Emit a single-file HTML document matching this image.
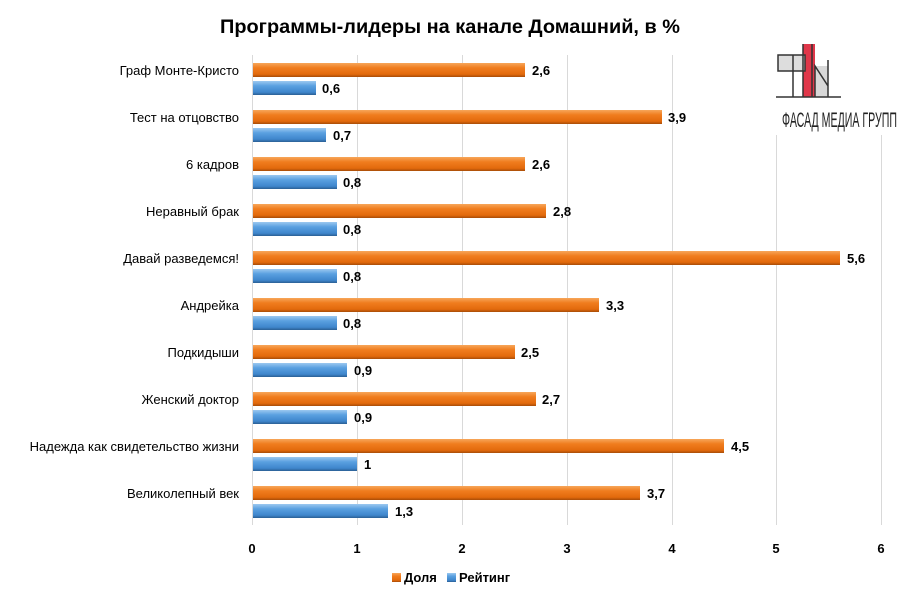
<!DOCTYPE html>
<html><head><meta charset="utf-8"><style>
body{margin:0;background:#fff}
svg{display:block;font-family:"Liberation Sans",sans-serif}
</style></head><body>
<svg width="900" height="600" viewBox="0 0 900 600" xmlns="http://www.w3.org/2000/svg">
<defs>
<linearGradient id="o" x1="0" y1="0" x2="0" y2="1">
<stop offset="0" stop-color="#f7a65a"/><stop offset="0.35" stop-color="#f07d1e"/><stop offset="0.8" stop-color="#e36a0c"/><stop offset="1" stop-color="#a84c08"/></linearGradient>
<linearGradient id="b" x1="0" y1="0" x2="0" y2="1">
<stop offset="0" stop-color="#9cc8f0"/><stop offset="0.35" stop-color="#5aa0e0"/><stop offset="0.8" stop-color="#3f86cc"/><stop offset="1" stop-color="#2a5f94"/></linearGradient>
</defs>
<rect width="900" height="600" fill="#fff"/>
<text x="450" y="33" text-anchor="middle" font-size="19" font-weight="bold" fill="#000" textLength="460" lengthAdjust="spacingAndGlyphs">Программы-лидеры на канале Домашний, в %</text>
<g stroke="#d9d9d9" stroke-width="1">
<line x1="252.5" y1="55" x2="252.5" y2="525"/><line x1="357.5" y1="55" x2="357.5" y2="525"/><line x1="462.5" y1="55" x2="462.5" y2="525"/><line x1="567.5" y1="55" x2="567.5" y2="525"/><line x1="672.5" y1="55" x2="672.5" y2="525"/><line x1="776.5" y1="55" x2="776.5" y2="525"/><line x1="881.5" y1="55" x2="881.5" y2="525"/>
</g>
<rect x="760" y="40" width="140" height="95" fill="#fff"/>
<g>
<rect x="803" y="44" width="12" height="53" fill="#e0374a"/>
<rect x="815" y="66" width="13" height="31" fill="#d8d8d8"/>
<path d="M778 55 H805 V71 H778 Z" fill="#ddd" stroke="#333" stroke-width="1.5"/>
<path d="M793 55 V97 M803 44 V97 M812 44 V97 M815 97 V66 L828 86 V97 M828 60 V97" fill="none" stroke="#333" stroke-width="1.5"/>
<line x1="776" y1="97" x2="841" y2="97" stroke="#333" stroke-width="1.5"/>
<text x="782" y="127" font-size="21" fill="#222" textLength="115" lengthAdjust="spacingAndGlyphs">ФАСАД МЕДИА ГРУПП</text>
</g>
<g font-size="13" fill="#000" text-anchor="end">
<text x="239" y="75">Граф Монте-Кристо</text>
<text x="239" y="122">Тест на отцовство</text>
<text x="239" y="169">6 кадров</text>
<text x="239" y="216">Неравный брак</text>
<text x="239" y="263">Давай разведемся!</text>
<text x="239" y="310">Андрейка</text>
<text x="239" y="357">Подкидыши</text>
<text x="239" y="404">Женский доктор</text>
<text x="239" y="451">Надежда как свидетельство жизни</text>
<text x="239" y="498">Великолепный век</text>
</g>
<g font-size="13" font-weight="bold" fill="#000">
<rect x="253" y="63" width="272" height="14" fill="url(#o)"/><text x="532" y="75">2,6</text>
<rect x="253" y="81" width="63" height="14" fill="url(#b)"/><text x="322" y="93">0,6</text>
<rect x="253" y="110" width="409" height="14" fill="url(#o)"/><text x="668" y="122">3,9</text>
<rect x="253" y="128" width="73" height="14" fill="url(#b)"/><text x="333" y="140">0,7</text>
<rect x="253" y="157" width="272" height="14" fill="url(#o)"/><text x="532" y="169">2,6</text>
<rect x="253" y="175" width="84" height="14" fill="url(#b)"/><text x="343" y="187">0,8</text>
<rect x="253" y="204" width="293" height="14" fill="url(#o)"/><text x="553" y="216">2,8</text>
<rect x="253" y="222" width="84" height="14" fill="url(#b)"/><text x="343" y="234">0,8</text>
<rect x="253" y="251" width="587" height="14" fill="url(#o)"/><text x="847" y="263">5,6</text>
<rect x="253" y="269" width="84" height="14" fill="url(#b)"/><text x="343" y="281">0,8</text>
<rect x="253" y="298" width="346" height="14" fill="url(#o)"/><text x="606" y="310">3,3</text>
<rect x="253" y="316" width="84" height="14" fill="url(#b)"/><text x="343" y="328">0,8</text>
<rect x="253" y="345" width="262" height="14" fill="url(#o)"/><text x="521" y="357">2,5</text>
<rect x="253" y="363" width="94" height="14" fill="url(#b)"/><text x="354" y="375">0,9</text>
<rect x="253" y="392" width="283" height="14" fill="url(#o)"/><text x="542" y="404">2,7</text>
<rect x="253" y="410" width="94" height="14" fill="url(#b)"/><text x="354" y="422">0,9</text>
<rect x="253" y="439" width="471" height="14" fill="url(#o)"/><text x="731" y="451">4,5</text>
<rect x="253" y="457" width="104" height="14" fill="url(#b)"/><text x="364" y="469">1</text>
<rect x="253" y="486" width="387" height="14" fill="url(#o)"/><text x="647" y="498">3,7</text>
<rect x="253" y="504" width="135" height="14" fill="url(#b)"/><text x="395" y="516">1,3</text>
</g>
<g font-size="13" font-weight="bold" fill="#000" text-anchor="middle">
<text x="252" y="553">0</text><text x="357" y="553">1</text><text x="462" y="553">2</text><text x="567" y="553">3</text><text x="672" y="553">4</text><text x="776" y="553">5</text><text x="881" y="553">6</text>
</g>
<rect x="392" y="573" width="9" height="9" fill="url(#o)"/>
<text x="404" y="582" font-size="13" font-weight="bold">Доля</text>
<rect x="447" y="573" width="9" height="9" fill="url(#b)"/>
<text x="459" y="582" font-size="13" font-weight="bold">Рейтинг</text>
</svg>
</body></html>
